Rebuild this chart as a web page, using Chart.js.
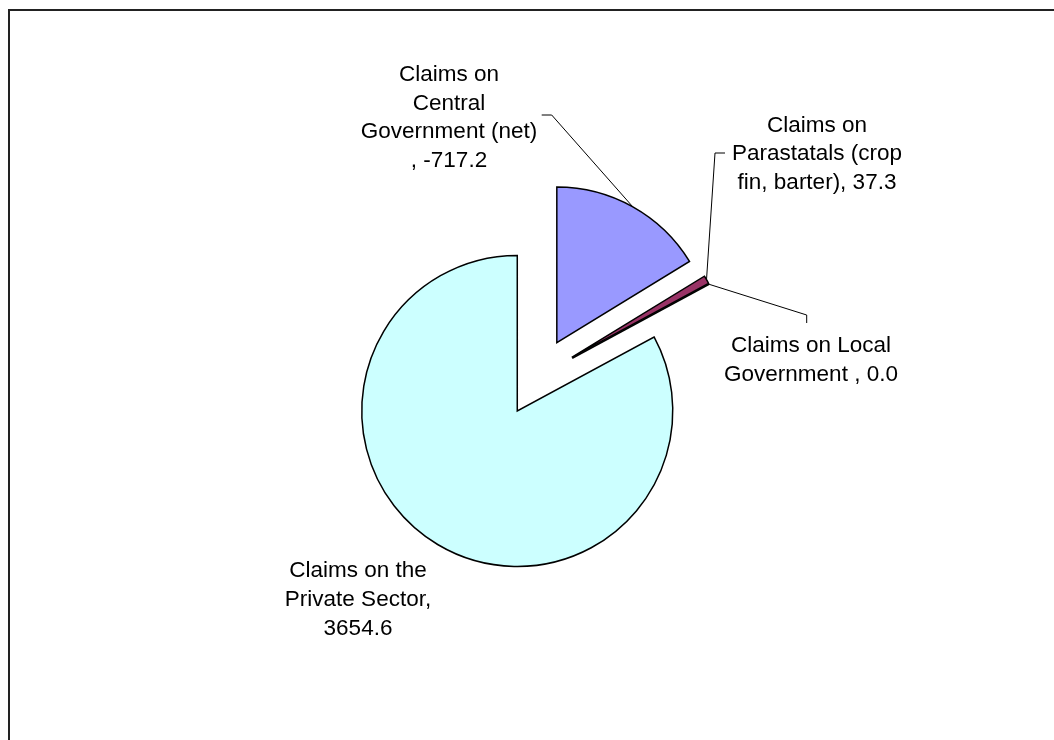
<!DOCTYPE html>
<html>
<head>
<meta charset="utf-8">
<script src="https://cdn.jsdelivr.net/npm/chart.js@4.4.1/dist/chart.umd.min.js"></script>
<style>
    html, body { margin: 0; padding: 0; background: #ffffff; }
    #wrap { position: relative; width: 1054px; height: 740px; }
</style>
</head>
<body>
<div id="wrap"><canvas id="myChart"></canvas></div>
<script>
// Chart data
const categories = [
    'Claims on Central Government (net)',
    'Claims on Parastatals (crop fin, barter)',
    'Claims on Local Government',
    'Claims on the Private Sector'
];
const values = [-717.2, 37.3, 0.0, 3654.6];

// Data label text, wrapped the way the original chart wraps it
const labelLines = [
    ['Claims on', 'Central', 'Government (net)', ', ' + values[0].toFixed(1)],
    ['Claims on', 'Parastatals (crop', 'fin, barter), ' + values[1].toFixed(1)],
    ['Claims on Local', 'Government , ' + values[2].toFixed(1)],
    ['Claims on the', 'Private Sector,', values[3].toFixed(1)]
];

// Where each label block sits, and the bends of its leader line
const labelLayout = [
    { x: 449, y: 80.7, leader: [[551.7, 115], [541.7, 115]] },
    { x: 817, y: 131.5, leader: [[715, 153], [725, 153]] },
    { x: 811, y: 351.7, leader: [[806.7, 315], [806.7, 323]] },
    { x: 358, y: 577.3, leader: null }
];

const explodeDistance = 39.5; // every slice is pulled out from the centre
const lineHeight = 28.8;
const labelFont = '22.5px "Liberation Sans", Arial, sans-serif';

// Move each slice out along its middle angle once the library has placed it
const explodePlugin = {
    id: 'explode',
    afterDatasetUpdate(chart, args) {
        args.meta.data.forEach(arc => {
            const mid = (arc.startAngle + arc.endAngle) / 2;
            arc.x += Math.cos(mid) * explodeDistance;
            arc.y += Math.sin(mid) * explodeDistance;
        });
    }
};

// Outer frame of the chart object
const framePlugin = {
    id: 'frame',
    beforeDraw(chart) {
        const ctx = chart.ctx;
        ctx.save();
        ctx.fillStyle = '#ffffff';
        ctx.fillRect(0, 0, chart.width, chart.height);
        ctx.strokeStyle = '#222222';
        ctx.lineWidth = 2;
        ctx.strokeRect(9, 10, 2000, 2000);
        ctx.restore();
    }
};

// Data labels with leader lines
const labelPlugin = {
    id: 'sliceLabels',
    afterDatasetsDraw(chart) {
        const ctx = chart.ctx;
        const arcs = chart.getDatasetMeta(0).data;
        ctx.save();

        // a zero slice still shows as its edge line
        arcs.forEach(arc => {
            if (arc.endAngle - arc.startAngle === 0) {
                ctx.strokeStyle = '#000000';
                ctx.lineWidth = 1.5;
                ctx.beginPath();
                ctx.moveTo(arc.x, arc.y);
                ctx.lineTo(arc.x + Math.cos(arc.startAngle) * arc.outerRadius,
                           arc.y + Math.sin(arc.startAngle) * arc.outerRadius);
                ctx.stroke();
            }
        });

        ctx.font = labelFont;
        ctx.fillStyle = '#000000';
        ctx.textAlign = 'center';
        ctx.textBaseline = 'alphabetic';
        arcs.forEach((arc, i) => {
            const lay = labelLayout[i];
            const mid = (arc.startAngle + arc.endAngle) / 2;
            if (lay.leader) {
                ctx.strokeStyle = '#000000';
                ctx.lineWidth = 1;
                ctx.beginPath();
                ctx.moveTo(arc.x + Math.cos(mid) * arc.outerRadius, arc.y + Math.sin(mid) * arc.outerRadius);
                lay.leader.forEach(p => ctx.lineTo(p[0], p[1]));
                ctx.stroke();
            }
            labelLines[i].forEach((t, k) => {
                ctx.fillText(t, lay.x, lay.y + k * lineHeight);
            });
        });
        ctx.restore();
    }
};

const ctx = document.getElementById('myChart').getContext('2d');
new Chart(ctx, {
    type: 'pie',
    data: {
        labels: categories,
        datasets: [{
            data: values.map(v => Math.abs(v)), // Excel pies plot the size of each value
            backgroundColor: ['#9999FF', '#993366', '#FFFFCC', '#CCFFFF'],
            borderColor: '#000000',
            borderWidth: 1.5,
            borderJoinStyle: 'miter',
            radius: 155.5
        }]
    },
    options: {
        responsive: true,
        maintainAspectRatio: false,
        animation: false,
        events: [],
        layout: {
            padding: { left: 21, right: 0, top: 14, bottom: 0 }
        },
        plugins: {
            legend: { display: false },
            title: { display: false },
            tooltip: { enabled: false }
        }
    },
    plugins: [framePlugin, explodePlugin, labelPlugin]
});
</script>
</body>
</html>
